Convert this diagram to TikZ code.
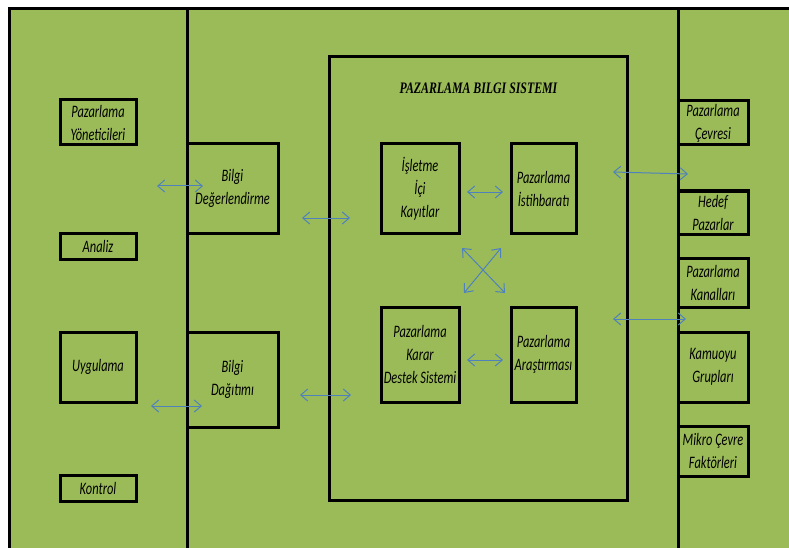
\documentclass[tikz,border=0pt]{standalone}
\usepackage{fontspec}
\setmainfont{Carlito}[FakeStretch=0.71]
\newfontfamily\titlefont{Liberation Serif}[FakeStretch=0.74]
\usetikzlibrary{arrows.meta,positioning}
\definecolor{bggreen}{RGB}{155,187,89}
\definecolor{linkblue}{RGB}{79,129,189}

\begin{document}
\begin{tikzpicture}[x=1pt, y=-1pt]
\tikzstyle{box} = [rectangle, draw=black, line width=3pt, inner sep=1pt, text centered, align=center, font=\fontsize{17.5}{23}\selectfont\itshape]
\tikzstyle{frame} = [draw=black, line width=3pt]
\tikzstyle{link} = [<->, >={Straight Barb[length=7pt,width=12pt]}, draw=linkblue, line width=1pt]

\useasboundingbox (0,0) rectangle (789,548);
\clip (0,0) rectangle (789,548);
\fill[bggreen] (9,9) rectangle (789,548);
\draw[frame] (9,548) -- (9,9) -- (789,9);
\draw[frame] (187,9) -- (187,548);
\draw[frame] (678,9) -- (678,548);

% left column
\node (Yonetici) [box, minimum width=76, minimum height=45] at (98,122.5) {Pazarlama\\Yöneticileri};
\node (Analiz) [box, minimum width=76, minimum height=26] at (98,246) {Analiz};
\node (Uygulama) [box, minimum width=76, minimum height=70] at (98,367) {Uygulama};
\node (Kontrol) [box, minimum width=76, minimum height=26] at (98,488) {Kontrol};

% middle column
\node (Degerlendirme) [box, minimum width=91, minimum height=89] at (232.5,188.5) {Bilgi\\Değerlendirme};
\node (Dagitim) [box, minimum width=91, minimum height=95] at (232.5,379.5) {Bilgi\\Dağıtımı};

% pazarlama bilgi sistemi
\node (PBS) [box, minimum width=298, minimum height=443] at (478,278.5) {};
\node (Title) at (478.5,88) {\titlefont\fontsize{16}{18}\selectfont\bfseries\itshape PAZARLAMA BILGI SISTEMI};
\node (Kayitlar) [box, minimum width=78, minimum height=89] at (420,188.5) {İşletme\\İçi\\Kayıtlar};
\node (Istihbarat) [box, minimum width=65, minimum height=89] at (543.5,188.5) {Pazarlama\\İstihbaratı};
\node (KararDestek) [box, minimum width=78, minimum height=95] at (420,354.5) {Pazarlama\\Karar\\Destek Sistemi};
\node (Arastirma) [box, minimum width=65, minimum height=95] at (543.5,354.5) {Pazarlama\\Araştırması};

% right column
\node (Cevre) [box, minimum width=70, minimum height=44] at (713,123) {Pazarlama\\Çevresi};
\node (Hedef) [box, minimum width=70, minimum height=43] at (713,212.5) {Hedef\\Pazarlar};
\node (Kanallar) [box, minimum width=70, minimum height=49] at (713,282.5) {Pazarlama\\Kanalları};
\node (Kamuoyu) [box, minimum width=70, minimum height=70] at (713,367) {Kamuoyu\\Grupları};
\node (Mikro) [box, minimum width=70, minimum height=50] at (713,451) {Mikro Çevre\\Faktörleri};

% arrow ends
\coordinate (yd1) at (157,186);  \coordinate (yd2) at (203,186);
\coordinate (dp1) at (302,218);  \coordinate (dp2) at (350,218);
\coordinate (ud1) at (151,406);  \coordinate (ud2) at (202,406);
\coordinate (gp1) at (300,395);  \coordinate (gp2) at (351,395);
\coordinate (ki1) at (467,192);  \coordinate (ki2) at (503,192);
\coordinate (ka1) at (467,360);  \coordinate (ka2) at (503,360);
\coordinate (xa1) at (462,248);  \coordinate (xa2) at (505,293);
\coordinate (xb1) at (501,248);  \coordinate (xb2) at (464,293);
\coordinate (pc1) at (613,172);  \coordinate (pc2) at (688,174);
\coordinate (pk1) at (613,319);  \coordinate (pk2) at (686,319);

\draw [link] (yd1) -- (yd2);
\draw [link] (dp1) -- (dp2);
\draw [link] (ud1) -- (ud2);
\draw [link] (gp1) -- (gp2);
\draw [link] (ki1) -- (ki2);
\draw [link] (ka1) -- (ka2);
\draw [link] (xa1) -- (xa2);
\draw [link] (xb1) -- (xb2);
\draw [link] (pc1) -- (pc2);
\draw [link] (pk1) -- (pk2);
\end{tikzpicture}
\end{document}
